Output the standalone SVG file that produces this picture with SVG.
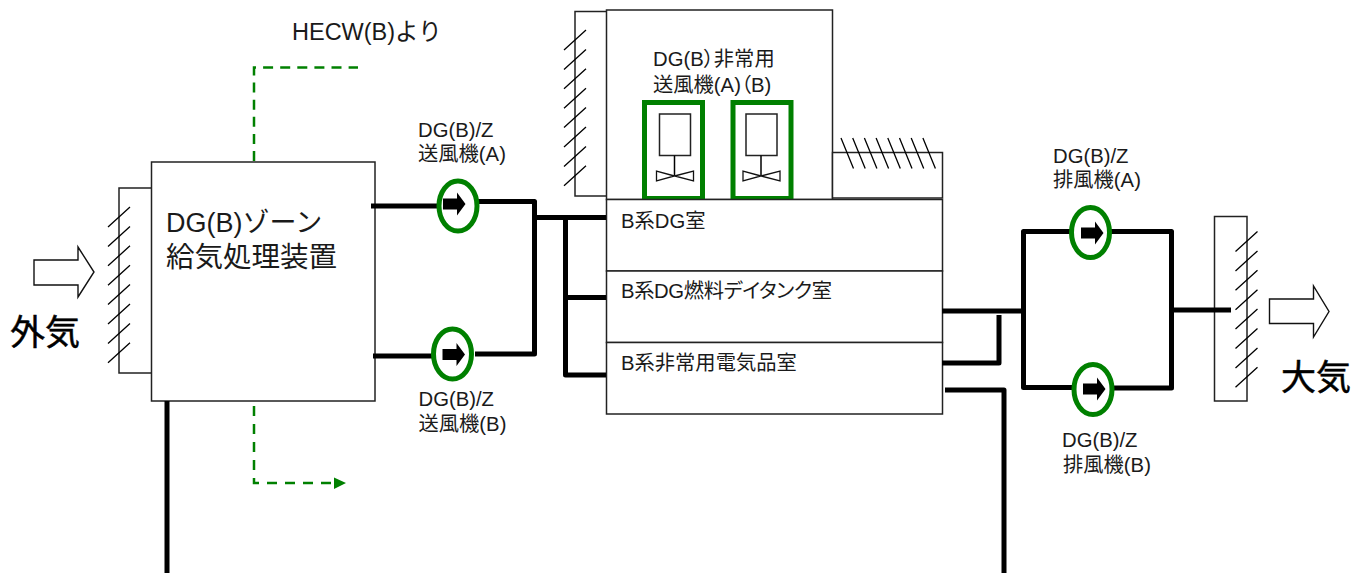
<svg xmlns="http://www.w3.org/2000/svg" width="1352" height="573" viewBox="0 0 1352 573">
<style>
text{font-family:"Liberation Sans","Noto Sans CJK JP",sans-serif;font-size:20.3px;fill:#1a1a1a;font-feature-settings:"palt"}
.box{fill:#fff;stroke:#222;stroke-width:1.5}
.duct{fill:none;stroke:#000;stroke-width:5;stroke-linejoin:round}
.dash{fill:none;stroke:#008000;stroke-width:2.5;stroke-dasharray:10 7.1}
.fan{fill:#fff;stroke:#008000;stroke-width:5}
.hatch{fill:none;stroke:#000;stroke-width:1.3}
.frame{fill:none;stroke:#008000;stroke-width:5}
text.big{font-size:35px;fill:#000;stroke:#000;stroke-width:.5;font-feature-settings:normal}
text.plain{font-feature-settings:normal}
</style>
<defs>
<path id="fanarrow" d="M-15,-5.5H-1V-11.5L7.5,0L-1,11.5V5.5H-15Z" fill="#000"/>
<path id="hatch8" class="hatch" d="M0,20L22,0M0,39.4L22,19.4M0,58.8L22,38.8M0,78.2L22,58.2M0,97.6L22,77.6M0,117L22,97M0,136.4L22,116.4M0,155.8L22,135.8"/>
<g id="unit"><rect class="box" x="-15" y="0" width="31" height="41.5"/><path d="M0,41.5V62" stroke="#000" stroke-width="1.5"/><path d="M0,62L-18,57V67ZM0,62L19,57V67Z" fill="#fff" stroke="#111" stroke-width="1.3"/></g>
</defs>

<g id="intake-louver"><rect class="box" x="119" y="188" width="33" height="185"/><use href="#hatch8" x="108" y="207"/></g>
<g id="intake-arrow"><path d="M34,260H78V247L94,272L78,297V285H34Z" fill="#fff" stroke="#111" stroke-width="1.4"/></g>
<g id="outside-air"><text class="big" x="10" y="345">外気</text></g>

<g id="supply-unit"><rect class="box" x="151.500" y="162" width="223.500" height="239"/>
<text class="plain" x="166" y="232" style="font-size:27px">DG(B)ゾーン</text><text x="166" y="267" style="font-size:28.500px">給気処理装置</text></g>
<g id="hecw-label"><text class="plain" x="292" y="40" style="font-size:23.500px">HECW(B)より</text></g>

<g id="emergency-louver"><rect class="box" x="575" y="11.500" width="32" height="184.500"/><use href="#hatch8" x="564" y="30"/></g>
<g id="emergency-room"><rect class="box" x="606.500" y="10" width="226" height="189.500"/>
<text x="653" y="66">DG(B）非常用</text><text x="653" y="92">送風機(A)（B)</text></g>
<g id="emergency-fan-a"><rect class="frame" x="644.500" y="102.500" width="58" height="96"/><use href="#unit" x="674.500" y="114"/></g>
<g id="emergency-fan-b"><rect class="frame" x="733" y="102.500" width="58" height="96"/><use href="#unit" x="761" y="114"/></g>

<g id="side-duct"><rect class="box" x="832.500" y="152.500" width="110" height="45.500"/>
<path class="hatch" d="M841,138L853.500,168.500M852.700,138L865.200,168.500M864.400,138L876.900,168.500M876.100,138L888.600,168.500M887.800,138L900.300,168.500M899.500,138L912,168.500M911.200,138L923.700,168.500M922.900,138L935.400,168.500"/></g>

<g id="room-dg"><rect class="box" x="606.500" y="199.500" width="336" height="71.500"/><text x="621" y="228">B系DG室</text></g>
<g id="room-tank"><rect class="box" x="606.500" y="271" width="336" height="71.500"/><text x="621" y="298" textLength="211">B系DG燃料デイタンク室</text></g>
<g id="room-elec"><rect class="box" x="606.500" y="342.500" width="336" height="71.500"/><text x="621" y="370">B系非常用電気品室</text></g>

<g id="exhaust-louver"><rect class="box" x="1214.500" y="216.500" width="32.500" height="184.500"/></g>

<g id="connectors">
<path class="dash" d="M254,161V67.500H358"/>
<path class="dash" d="M254,406V483H334" style="stroke-dasharray:10 8"/>
<path d="M334,477.500L346,483L334,489Z" fill="#008000"/>
<path class="duct" d="M371,206H441"/>
<path class="duct" d="M475,201.500H534.500V354H475"/>
<path class="duct" d="M373,356H432"/>
<path class="duct" d="M537,217.500H606"/>
<path class="duct" d="M606,297.500H565.500M565.500,217.500V375H606"/>
<path class="duct" d="M942,311H1023.500"/>
<path class="duct" d="M1074,231.500H1023.500V387.500H1073"/>
<path class="duct" d="M1108,231.500H1171.500V388H1114"/>
<path class="duct" d="M1171,310H1231"/>
<path class="duct" d="M942,363H999V315"/>
<path class="duct" d="M945,390H1004V573"/>
<path class="duct" d="M167,401V573"/>
</g>

<g id="supply-fan-a"><ellipse class="fan" cx="458" cy="206" rx="19" ry="25"/><use href="#fanarrow" x="458" y="204"/>
<text x="418" y="137">DG(B)/Z</text><text x="418" y="161">送風機(A)</text></g>
<g id="supply-fan-b"><ellipse class="fan" cx="452.500" cy="354" rx="19" ry="25"/><use href="#fanarrow" x="457.500" y="354.500"/>
<text x="418.500" y="406">DG(B)/Z</text><text x="418.500" y="431">送風機(B)</text></g>

<g id="exhaust-fan-a"><ellipse class="fan" cx="1090.500" cy="232.500" rx="19" ry="25"/><use href="#fanarrow" x="1096" y="233"/>
<text x="1053" y="163">DG(B)/Z</text><text x="1053" y="187">排風機(A)</text></g>
<g id="exhaust-fan-b"><ellipse class="fan" cx="1093" cy="389.500" rx="19" ry="25"/><use href="#fanarrow" x="1098" y="389"/>
<text x="1062" y="447">DG(B)/Z</text><text x="1063" y="472">排風機(B)</text></g>

<g id="exhaust-hatch"><use href="#hatch8" x="1235.500" y="231.500"/></g>
<g id="exhaust-arrow"><path d="M1269.500,299H1313.500V286L1329,311.500L1313.500,337V323.500H1269.500Z" fill="#fff" stroke="#111" stroke-width="1.4"/></g>
<g id="atmosphere"><text class="big" x="1281" y="390">大気</text></g>
</svg>
